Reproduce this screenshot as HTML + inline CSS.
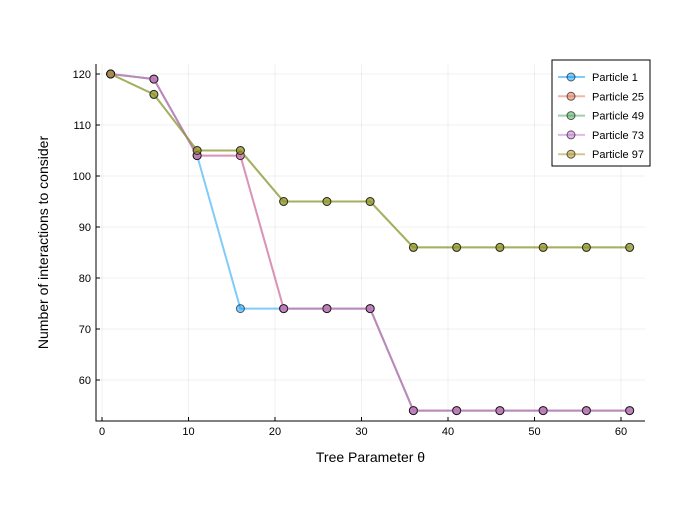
<!DOCTYPE html>
<html><head><meta charset="utf-8"><style>body{margin:0;background:#fff}svg{font-family:"Liberation Sans",sans-serif}</style></head>
<body>
<svg id="chart" width="700" height="500"></svg>
<script>
const xValues=[1,6,11,16,21,26,31,36,41,46,51,56,61];
const seriesNames=["Particle 1","Particle 25","Particle 49","Particle 73","Particle 97"];
const p1=[120,119,104,74,74,74,74,54,54,54,54,54,54];
const p25=[120,119,104,104,74,74,74,54,54,54,54,54,54];
const p49=[120,116,105,105,95,95,95,86,86,86,86,86,86];
const p73=[120,119,104,104,74,74,74,54,54,54,54,54,54];
const p97=[120,116,105,105,95,95,95,86,86,86,86,86,86];
const xTicks=[0,10,20,30,40,50,60];
const yTicks=[60,70,80,90,100,110,120];
const colors=["#009AFA","#E36F47","#3EA44E","#C371D2","#AC8D18"];
const allSeries=[p1,p25,p49,p73,p97];
const NS="http://www.w3.org/2000/svg";
const svg=document.getElementById('chart');
const L=96,R=645,T=64,B=421;
const sx=v=>102+(v-0)*(621-102)/60;
const sy=v=>74+(120-v)*(380-74)/60;
function mk(t,a,p){const e=document.createElementNS(NS,t);for(const k in a)e.setAttribute(k,a[k]);(p||svg).appendChild(e);return e;}
xTicks.forEach(t=>{const g=mk('line',{x1:sx(t),x2:sx(t),y1:T,y2:B,stroke:'#000','stroke-opacity':0.06});

const k=mk('line',{x1:sx(t),x2:sx(t),y1:B,y2:B-4,stroke:'#000'});

const l=mk('text',{x:sx(t),y:B+14,'text-anchor':'middle','font-size':11});l.textContent=t;
});
yTicks.forEach(t=>{const g=mk('line',{x1:L,x2:R,y1:sy(t),y2:sy(t),stroke:'#000','stroke-opacity':0.06});

const k=mk('line',{x1:L,x2:L+4,y1:sy(t),y2:sy(t),stroke:'#000'});

const l=mk('text',{x:L-5,y:sy(t)+4,'text-anchor':'end','font-size':11});l.textContent=t;
});
const ax=mk('path',{d:`M${L},${T}V${B}H${R}`,fill:'none',stroke:'#000'});

allSeries.forEach((s,i)=>{const pl=mk('polyline',{points:s.map((v,j)=>sx(xValues[j])+','+sy(v)).join(' '),fill:'none',stroke:colors[i],'stroke-opacity':0.5,'stroke-width':2});

s.forEach((v,j)=>{const c=mk('circle',{cx:sx(xValues[j]),cy:sy(v),r:4,fill:colors[i],'fill-opacity':0.5,stroke:'#000','stroke-opacity':0.6});
});});
const xt=mk('text',{x:(L+R)/2,y:462,'text-anchor':'middle','font-size':14});xt.textContent='Tree Parameter θ';

const yt=mk('text',{x:48,y:(T+B)/2,'text-anchor':'middle','font-size':14,transform:`rotate(-90 48 ${(T+B)/2})`});yt.textContent='Number of interactions to consider';

const lg=mk('rect',{x:552,y:60,width:98,height:106,fill:'#fff',stroke:'#000'});

seriesNames.forEach((n,i)=>{const y=77+i*19.3;
const ln=mk('line',{x1:558,x2:585,y1:y,y2:y,stroke:colors[i],'stroke-opacity':0.5,'stroke-width':2});

const c=mk('circle',{cx:571,cy:y,r:4,fill:colors[i],'fill-opacity':0.5,stroke:'#000','stroke-opacity':0.6});

const t=mk('text',{x:592,y:y+4,'font-size':11});t.textContent=n;
});
</script>
</body></html>
